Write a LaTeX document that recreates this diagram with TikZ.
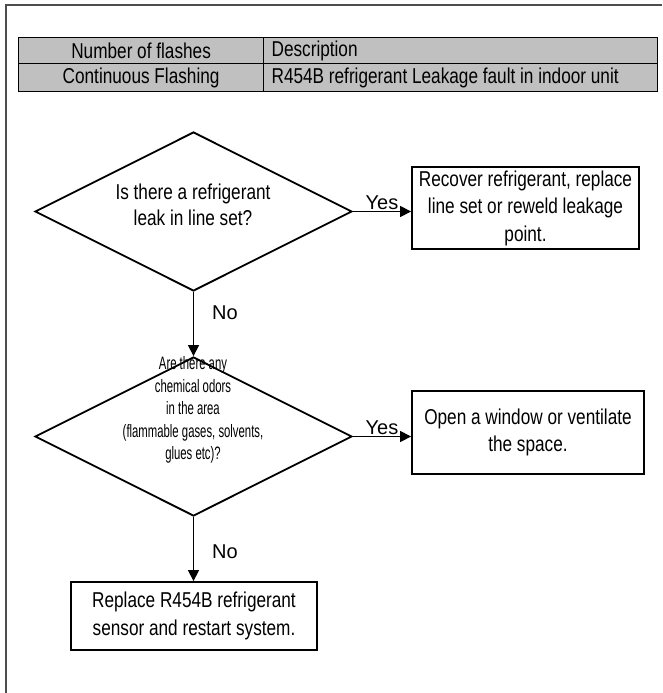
\documentclass[tikz,border=0pt]{standalone}
\usepackage{fontspec}
\setmainfont{Liberation Sans}[FakeStretch=0.8]
\newfontfamily\yesnofont{Liberation Sans}
\newfontfamily\narrowfont{Liberation Sans}[FakeStretch=0.63]
\usetikzlibrary{shapes.geometric}
\usetikzlibrary{arrows.meta}
\definecolor{cellgray}{HTML}{C0C0C0}
\definecolor{framegray}{HTML}{4D4D4D}

\tikzset{
  cell/.style={draw, fill=cellgray, line width=1.2pt, inner sep=0pt, font=\fontsize{21.5}{24}\selectfont},
  decision/.style={draw, diamond, line width=1.8pt, minimum width=317pt, minimum height=159pt, inner sep=0pt},
  actionbox/.style={draw, rectangle, line width=1.8pt, align=center, inner sep=0pt, font=\fontsize{21.5}{27.5}\selectfont},
  flowtext/.style={align=center, inner sep=0pt},
  answer/.style={inner sep=1pt, font=\yesnofont\fontsize{20}{24}\selectfont},
  flowarrow/.style={line width=1.2pt, -{Triangle[length=11pt,width=11pt]}}
}

\begin{document}
\begin{tikzpicture}[x=1pt,y=-1pt]

\useasboundingbox (0,0) rectangle (662,693);

% page frame
\draw[framegray, line width=1.5pt] (662,5) -- (6,5) -- (6,693);

% fault table
\node[cell, anchor=north west, minimum width=245pt, minimum height=26pt] (flashes) at (18,37) {Number of flashes};
\node[cell, anchor=north west, text width=378pt, inner xsep=8pt, align=flush left, minimum height=26pt] (desc) at (263,37) {Description};
\node[cell, anchor=north west, minimum width=245pt, minimum height=28pt] (mode) at (18,63) {Continuous Flashing};
\node[cell, anchor=north west, text width=378pt, inner xsep=8pt, align=flush left, minimum height=28pt] (fault) at (263,63) {R454B refrigerant Leakage fault in indoor unit};

% decisions
\node[decision] (q1) at (193.5,211.5) {};
\node[flowtext, font=\fontsize{21.5}{26}\selectfont] (q1text) at (193,205) {Is there a refrigerant\\leak in line set?};

\node[decision] (q2) at (193.5,436.5) {};
\node[flowtext, font=\narrowfont\fontsize{18}{22.5}\selectfont] (q2text) at (193,410) {Are there any\\chemical odors\\in the area\\(flammable gases, solvents,\\glues etc)?};

% actions
\node[actionbox, minimum width=227pt, minimum height=82pt] (act1) at (525.5,208) {Recover refrigerant, replace\\line set or reweld leakage\\point.};
\node[actionbox, minimum width=232pt, minimum height=83pt] (act2) at (528,432.5) {Open a window or ventilate\\the space.};
\node[actionbox, minimum width=246pt, minimum height=68pt] (act3) at (194,616) {Replace R454B refrigerant\\sensor and restart system.};

% connectors
\draw[flowarrow] (q1.east) -- (q1.east -| act1.west) node[midway, above, answer] {Yes};
\draw[flowarrow] (q2.east) -- (q2.east -| act2.west) node[midway, above, answer] {Yes};
\draw[flowarrow] (q1.south) -- (q2.north) node[pos=0.33, right=17pt, answer] {No};
\draw[flowarrow] (q2.south) -- (q2.south |- act3.north) node[pos=0.55, right=17pt, answer] {No};

\end{tikzpicture}
\end{document}
